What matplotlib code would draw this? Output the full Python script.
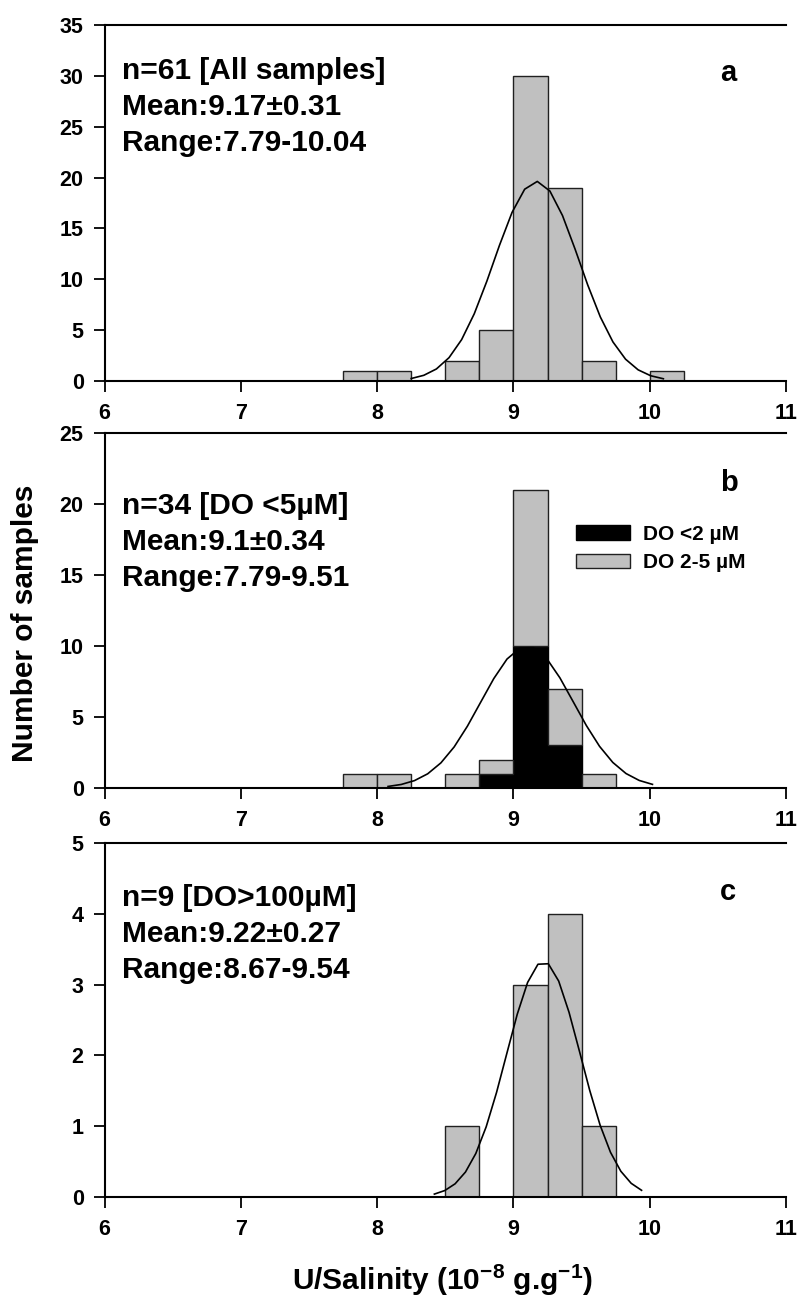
import numpy as np
import matplotlib
matplotlib.use('Agg')
import matplotlib.pyplot as plt
from matplotlib.patches import Patch

plt.rcParams['font.family'] = 'Liberation Sans'
plt.rcParams['font.weight'] = 'bold'
plt.rcParams['mathtext.fontset'] = 'custom'
plt.rcParams['mathtext.rm'] = 'Liberation Sans:bold'
plt.rcParams['mathtext.default'] = 'rm'

bin_width = 0.25

# panel a - all samples (left bin edges, counts)
a_edges = [7.75, 8.0, 8.5, 8.75, 9.0, 9.25, 9.5, 10.0]
a_counts = [1, 1, 2, 5, 30, 19, 2, 1]

# panel b - DO < 5 uM, split in two classes
b_edges = [7.75, 8.0, 8.5, 8.75, 9.0, 9.25, 9.5]
b_low = [0, 0, 0, 1, 10, 3, 0]     # DO <2 uM
b_mid = [1, 1, 1, 1, 11, 4, 1]     # DO 2-5 uM

# panel c - DO > 100 uM
c_edges = [8.5, 9.0, 9.25, 9.5]
c_counts = [1, 3, 4, 1]

# stats for the normal curves: n, mean, sd, curve start, curve end
stats_a = (61, 9.17, 0.31, 8.25, 10.10)
stats_b = (34, 9.10, 0.34, 8.08, 10.02)
stats_c = (9, 9.22, 0.27, 8.42, 9.94)

labels_a = "n=61 [All samples]\nMean:9.17\u00b10.31\nRange:7.79-10.04"
labels_b = "n=34 [DO <5\u00b5M]\nMean:9.1\u00b10.34\nRange:7.79-9.51"
labels_c = "n=9 [DO>100\u00b5M]\nMean:9.22\u00b10.27\nRange:8.67-9.54"

gray = '#c0c0c0'
edge = '#202020'
txt_size = 21.5

fig = plt.figure(figsize=(7.98, 12.98), dpi=100)


def setup(ax, ymax, ystep):
    ax.set_xlim(6, 11)
    ax.set_ylim(0, ymax)
    ax.set_xticks(range(6, 12))
    ax.set_yticks(np.arange(0, ymax + 0.01, ystep))
    ax.spines['right'].set_visible(False)
    for s in ['left', 'top', 'bottom']:
        ax.spines[s].set_linewidth(1.5)
    ax.tick_params(direction='out', length=8, width=1.3, labelsize=15.5)
    ax.tick_params(axis='x', pad=8)
    ax.tick_params(axis='y', pad=7)
    for lab in ax.get_xticklabels() + ax.get_yticklabels():
        lab.set_fontweight('bold')


def curve(ax, st):
    n, mu, sd, x0, x1 = st
    x = np.linspace(x0, x1, 21)
    y = n * bin_width / (sd * np.sqrt(2 * np.pi)) * np.exp(-0.5 * ((x - mu) / sd) ** 2)
    ax.plot(x, y, color='black', lw=1.2, zorder=5)


def info(ax, s, ymid, letter, yletter):
    ax.text(0.025, ymid, s, transform=ax.transAxes, fontsize=txt_size, fontweight='bold',
            va='center', ha='left', linespacing=1.35)
    ax.text(0.903, yletter, letter, transform=ax.transAxes, fontsize=21, fontweight='bold',
            va='center', ha='left')


# ---- a ----
ax1 = fig.add_axes([0.131, 0.7065, 0.854, 0.2742])
ax1.bar(a_edges, a_counts, width=bin_width, align='edge', color=gray, edgecolor=edge, linewidth=1)
curve(ax1, stats_a)
setup(ax1, 35, 5)
info(ax1, labels_a, 0.770, 'a', 0.865)

# ---- b ----
ax2 = fig.add_axes([0.131, 0.3929, 0.854, 0.2735])
ax2.bar(b_edges, b_low, width=bin_width, align='edge', color='black', edgecolor='black', linewidth=1)
ax2.bar(b_edges, b_mid, bottom=b_low, width=bin_width, align='edge', color=gray, edgecolor=edge, linewidth=1)
curve(ax2, stats_b)
setup(ax2, 25, 5)
info(ax2, labels_b, 0.693, 'b', 0.858)
handles = [Patch(facecolor='black', edgecolor='black', label='DO <2 \u00b5M'),
           Patch(facecolor=gray, edgecolor=edge, label='DO 2-5 \u00b5M')]
ax2.legend(handles=handles, loc='upper left', bbox_to_anchor=(0.68, 0.765), frameon=False,
           handlelength=2.6, handleheight=0.7, handletextpad=0.6, labelspacing=0.45,
           borderaxespad=0, prop={'weight': 'bold', 'size': 15})

# ---- c ----
ax3 = fig.add_axes([0.131, 0.0778, 0.854, 0.2727])
ax3.bar(c_edges, c_counts, width=bin_width, align='edge', color=gray, edgecolor=edge, linewidth=1)
curve(ax3, stats_c)
setup(ax3, 5, 1)
info(ax3, labels_c, 0.743, 'c', 0.862)

fig.text(0.031, 0.52, 'Number of samples', rotation=90, fontsize=21.5, fontweight='bold',
         ha='center', va='center')
fig.text(0.554, 0.0062, 'U/Salinity (10$^{-8}$ g.g$^{-1}$)', fontsize=21.5, fontweight='bold',
         ha='center', va='baseline')

fig.savefig('out.png', dpi=100)
